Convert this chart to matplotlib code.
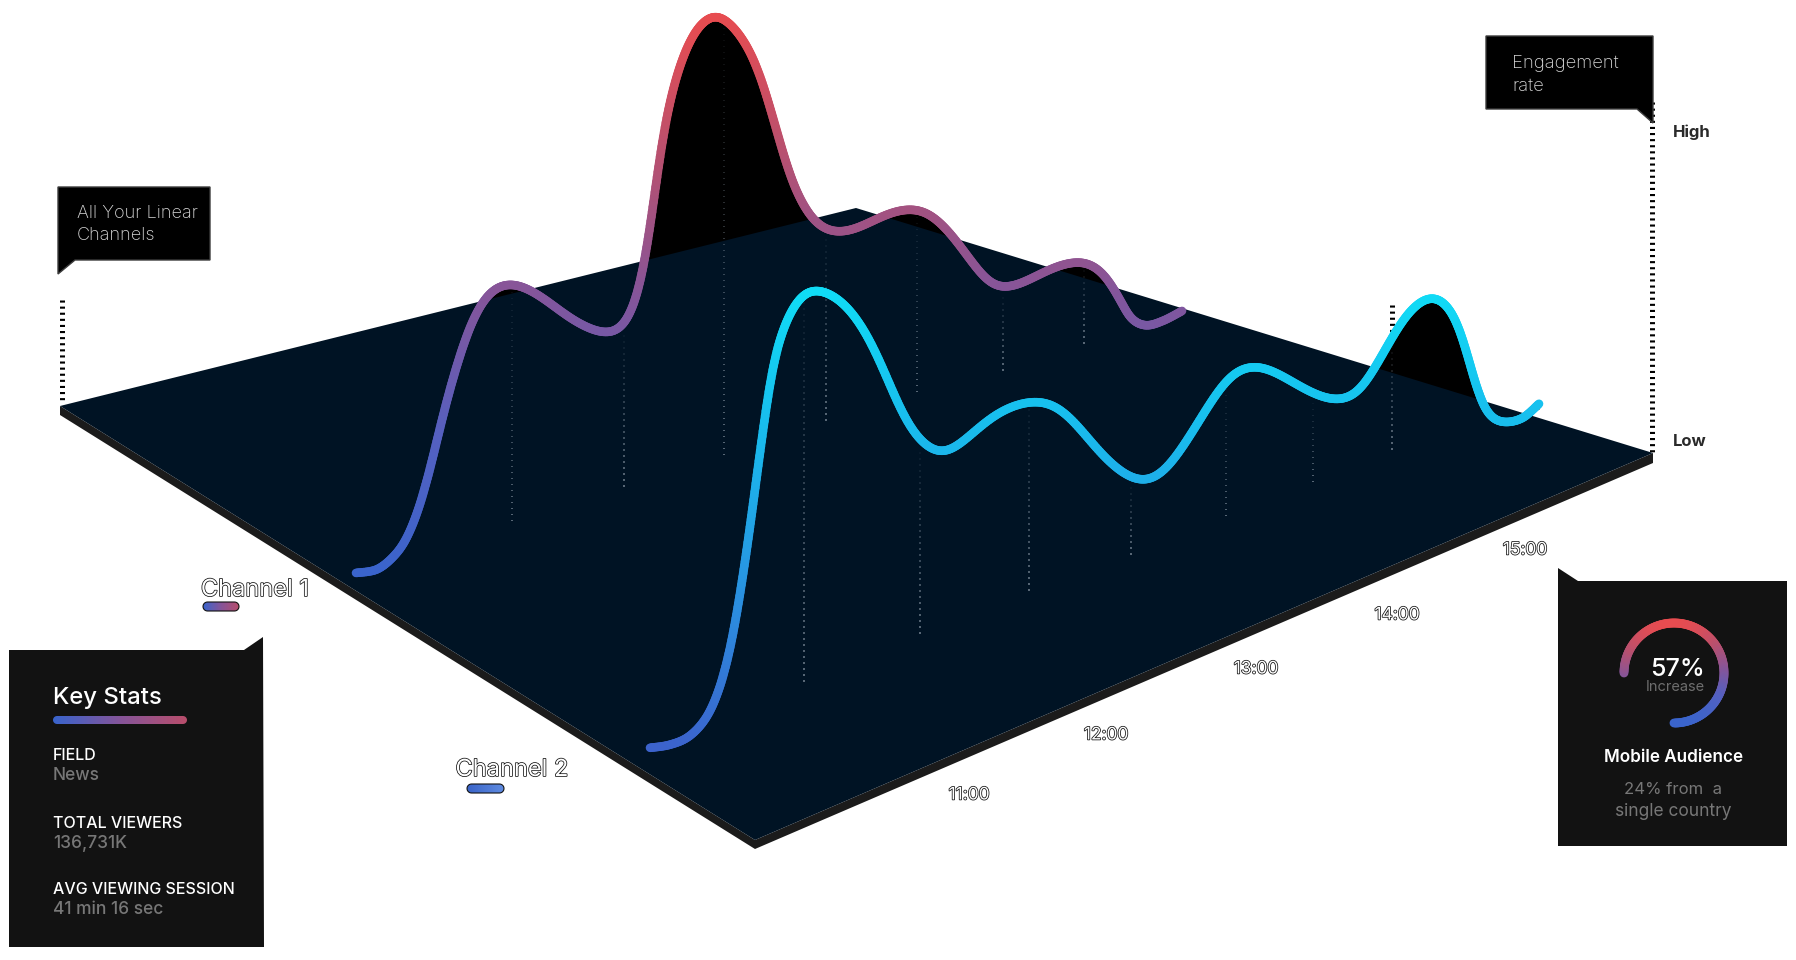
import numpy as np
import matplotlib
matplotlib.use("Agg")
import matplotlib.pyplot as plt
import matplotlib.patheffects as pe
from matplotlib.collections import LineCollection
from matplotlib.colors import LinearSegmentedColormap
from matplotlib.patches import Polygon

# channel 1: hour of day, engagement
ch1_hours = [10.000, 10.153, 10.269, 10.370, 10.465, 10.538, 10.610, 10.683, 10.755, 10.828,
             10.923, 11.024, 11.133, 11.249, 11.387, 11.533, 11.678, 11.823, 11.932, 12.012,
             12.077, 12.136, 12.194, 12.266, 12.354, 12.448, 12.550, 12.630, 12.717, 12.811,
             12.913, 13.007, 13.095, 13.174, 13.276, 13.371, 13.494, 13.639, 13.785, 13.930,
             14.075, 14.191, 14.315, 14.438, 14.555, 14.656, 14.772, 14.918, 15.063, 15.208,
             15.332, 15.455, 15.550, 15.622, 15.731, 15.862, 16.000]
ch1_values = [0.9, 0.1, 1.6, 4.6, 11.0, 18.6, 27.4, 35.4, 42.0, 48.0,
              53.0, 54.8, 54.4, 52.1, 48.1, 42.9, 39.0, 36.0, 36.2, 39.8,
              46.3, 56.4, 69.8, 83.3, 91.4, 97.6, 99.6, 99.5, 96.8, 92.5,
              86.0, 75.3, 64.9, 55.9, 49.1, 44.8, 42.3, 41.9, 43.0, 43.5,
              42.5, 39.8, 34.8, 28.5, 22.2, 19.0, 18.0, 18.7, 19.8, 19.6,
              18.4, 14.2, 7.7, 2.6, 0.0, 0.0, 0.9]

# channel 2
ch2_hours = [10.000, 10.135, 10.270, 10.391, 10.472, 10.540, 10.594, 10.641, 10.688, 10.722,
             10.790, 10.844, 10.925, 11.012, 11.093, 11.168, 11.262, 11.370, 11.485, 11.599,
             11.707, 11.822, 11.957, 12.072, 12.247, 12.409, 12.612, 12.747, 12.882, 13.037,
             13.192, 13.327, 13.462, 13.597, 13.712, 13.847, 13.962, 14.097, 14.232, 14.387,
             14.522, 14.657, 14.771, 14.859, 14.974, 15.082, 15.197, 15.298, 15.386, 15.453,
             15.514, 15.568, 15.622, 15.690, 15.784, 15.892, 16.000]
ch2_values = [1.6, 0.5, 0.5, 3.2, 8.4, 15.8, 25.3, 34.4, 45.0, 53.0,
              68.8, 79.2, 85.5, 89.2, 89.4, 88.2, 85.6, 80.9, 73.6, 63.5,
              53.2, 45.9, 41.4, 41.4, 45.2, 46.7, 45.8, 42.6, 36.9, 27.8,
              21.4, 17.6, 17.6, 22.4, 26.9, 32.7, 35.2, 34.4, 30.9, 25.6,
              21.6, 18.8, 18.9, 21.8, 27.0, 32.2, 34.6, 34.4, 31.0, 26.2,
              18.7, 11.4, 5.3, 1.6, -0.3, -0.6, 1.2]

# hours with a dotted drop line
ch1_drops = [11.133, 11.947, 12.673, 13.414, 14.075, 14.700, 15.288]
ch2_drops = [11.039, 11.822, 12.558, 13.246, 13.887, 14.474, 15.008]

tick_labels = ["11:00", "12:00", "13:00", "14:00", "15:00"]
tick_x = [969, 1106, 1256, 1397, 1525]
tick_y = [795, 735, 669, 615, 550]

stat_names = ["FIELD", "TOTAL VIEWERS", "AVG VIEWING SESSION"]
stat_values = ["News", "136,731K", "41 min 16 sec"]
stat_y = [756, 824, 890]

# how a channel sits on the floor of the picture, in pixels
HEIGHT_PX = 4.5
CH1 = dict(x0=356, px_per_hour=137.67, y0=577, slope=0.3172, floor=0.6)
CH2 = dict(x0=650, px_per_hour=148.17, y0=755, slope=0.389, floor=3.2)

PLATE = "#001324"
EDGE = "#1b1b1b"
PANEL = "#121212"
GREY = "#777777"
FONT = "Inter"

warm = LinearSegmentedColormap.from_list("warm", ["#3a64cc", "#5560c0", "#85559a", "#b8506f", "#e84c50"])
cool = LinearSegmentedColormap.from_list("cool", ["#3c62cc", "#2a90e0", "#1ab8ec", "#10dcf6"])
pink_bar = LinearSegmentedColormap.from_list("pink", ["#3a64cc", "#85559a", "#b84e6c"])
blue_bar = LinearSegmentedColormap.from_list("blue", ["#3a64c8", "#5f8be0"])


def project(hours, values, ch):
    hours = np.asarray(hours, dtype=float)
    values = np.asarray(values, dtype=float)
    x = ch["x0"] + (hours - 10) * ch["px_per_hour"]
    y = ch["y0"] - ch["slope"] * (x - ch["x0"]) - values * HEIGHT_PX
    return x, y


def smooth(x, y, n=12, sigma=9):
    # catmull-rom through the read points, then a soft blur to hide reading jitter
    p = np.column_stack([x, y])
    p = np.vstack([p[0], p, p[-1]])
    out = []
    for i in range(1, len(p) - 2):
        t = np.linspace(0, 1, n, endpoint=False)[:, None]
        out.append(0.5 * (2 * p[i] + (p[i + 1] - p[i - 1]) * t
                          + (2 * p[i - 1] - 5 * p[i] + 4 * p[i + 1] - p[i + 2]) * t ** 2
                          + (3 * p[i] - p[i - 1] - 3 * p[i + 1] + p[i + 2]) * t ** 3))
    out.append(p[-2][None, :])
    pts = np.vstack(out)
    half = 3 * sigma
    kern = np.exp(-0.5 * (np.arange(-half, half + 1) / sigma) ** 2)
    kern /= kern.sum()
    res = pts.copy()
    for c in range(2):
        pad = np.r_[pts[half:0:-1, c], pts[:, c], pts[-2:-half - 2:-1, c]]
        res[:, c] = np.convolve(pad, kern, mode="valid")
    # fade the blur out at the two ends so they stay where they were read
    idx = np.arange(len(pts))
    w = np.clip(np.minimum(idx, len(pts) - 1 - idx) / (2 * half), 0, 1)[:, None]
    return w * res + (1 - w) * pts


def gradient_line(ax, pts, cmap, top, bottom, lw, z):
    segs = np.stack([pts[:-1], pts[1:]], axis=1)
    mid = (pts[:-1, 1] + pts[1:, 1]) / 2
    lc = LineCollection(segs, colors=cmap((bottom - mid) / (bottom - top)), linewidths=lw,
                        capstyle="round", zorder=z)
    ax.add_collection(lc)


def dotted_drop(ax, hour, hours, values, ch, top_gap=2.0):
    x, top = project(hour, np.interp(hour, hours, values), ch)
    _, bottom = project(hour, ch["floor"], ch)
    ys = np.arange(top + top_gap * HEIGHT_PX, bottom, 6.0)
    alpha = np.linspace(0.08, 0.75, len(ys))
    segs = [[(x, v), (x, v + 1.6)] for v in ys]
    cols = [(0.6, 0.65, 0.7, a) for a in alpha]
    ax.add_collection(LineCollection(segs, colors=cols, linewidths=1.1, zorder=3))


def ruler(ax, x, y_top, y_bottom, z=1):
    ax.plot([x, x], [y_top, y_bottom], color="black", lw=3.6, linestyle=(0, (0.42, 0.8)),
            solid_capstyle="butt", dash_capstyle="butt", zorder=z)


def outlined(ax, x, y, s, size, ha="center"):
    t = ax.text(x, y, s, fontsize=size, color="white", ha=ha, va="center", family=FONT, zorder=6)
    t.set_path_effects([pe.Stroke(linewidth=1.1, foreground="#111111"), pe.Normal()])
    return t


def bar(ax, x0, x1, y0, y1, cmap, edge=None):
    im = ax.imshow(np.linspace(0, 1, 64)[None, :], extent=(x0, x1, y1, y0), cmap=cmap,
                   aspect="auto", zorder=7)
    r = (y1 - y0) / 2
    ang = np.linspace(-np.pi / 2, np.pi / 2, 12)
    xs = np.r_[x1 - r + r * np.cos(ang), x0 + r - r * np.cos(ang)]
    ys = np.r_[(y0 + y1) / 2 + r * np.sin(ang), (y0 + y1) / 2 - r * np.sin(ang)]
    clip = Polygon(np.column_stack([xs, ys]), closed=True, transform=ax.transData,
                   fc="none", ec=edge or "none", lw=0.8, zorder=8)
    ax.add_patch(clip)
    im.set_clip_path(clip)


fig = plt.figure(figsize=(17.96, 9.6), dpi=100)
ax = fig.add_axes([0, 0, 1, 1])

# things standing behind the plate
for hours, values, ch in [(ch1_hours, ch1_values, CH1), (ch2_hours, ch2_values, CH2)]:
    x, y = project(hours, values, ch)
    pts = smooth(x, y)
    _, base = project(10 + (pts[:, 0] - ch["x0"]) / ch["px_per_hour"], 0, ch)
    ax.fill_between(pts[:, 0], pts[:, 1], base, color="black", lw=0, zorder=1)

ruler(ax, 1652, 102, 452)
ruler(ax, 62, 300, 403)
ruler(ax, 1392, 305, 372)

# the plate
ax.add_patch(Polygon([(60, 406), (60, 415), (755, 849), (1653, 463), (1653, 453), (755, 840)],
                     closed=True, fc=EDGE, ec="none", zorder=2))
ax.add_patch(Polygon([(60, 406), (856, 208), (1653, 453), (755, 840)],
                     closed=True, fc=PLATE, ec="none", zorder=2))

for h in ch1_drops:
    dotted_drop(ax, h, ch1_hours, ch1_values, CH1)
for h in ch2_drops:
    dotted_drop(ax, h, ch2_hours, ch2_values, CH2)

x, y = project(ch1_hours, ch1_values, CH1)
gradient_line(ax, smooth(x, y), warm, 15, 570, 6.2, 4)
x, y = project(ch2_hours, ch2_values, CH2)
gradient_line(ax, smooth(x, y), cool, 290, 750, 6.2, 5)

for lab, tx, ty in zip(tick_labels, tick_x, tick_y):
    outlined(ax, tx, ty, lab, 12.5)

outlined(ax, 255, 590, "Channel 1", 17)
outlined(ax, 512, 770, "Channel 2", 17)
bar(ax, 203, 239, 602, 611, pink_bar, edge="#111111")
bar(ax, 467, 504, 784, 793, blue_bar, edge="#111111")

# callouts
ax.add_patch(Polygon([(58, 187), (210, 187), (210, 260), (75, 260), (58, 274)], closed=True,
                     fc="black", ec="#3c3c3c", lw=1, zorder=6))
ax.text(77, 214, "All Your Linear", color="#d8d8d8", fontsize=13, weight="light", family=FONT, va="center", zorder=7)
ax.text(77, 236, "Channels", color="#d8d8d8", fontsize=13, weight="light", family=FONT, va="center", zorder=7)

ax.add_patch(Polygon([(1486, 36), (1653, 36), (1653, 123), (1637, 109), (1486, 109)], closed=True,
                     fc="black", ec="#3c3c3c", lw=1, zorder=6))
ax.text(1512, 64, "Engagement", color="#d8d8d8", fontsize=13.3, weight="light", family=FONT, va="center", zorder=7)
ax.text(1512, 86, "rate", color="#d8d8d8", fontsize=13.3, weight="light", family=FONT, va="center", zorder=7)

ax.text(1673, 132, "High", color="#2a2a2a", fontsize=12, weight="bold", family=FONT, va="center")
ax.text(1673, 442, "Low", color="#2a2a2a", fontsize=12, weight="bold", family=FONT, va="center")

# key stats panel
ax.add_patch(Polygon([(9, 650), (244, 650), (263, 637), (264, 947), (9, 947)], closed=True,
                     fc=PANEL, ec="none", zorder=6))
ax.text(53, 698, "Key Stats", color="white", fontsize=17.2, weight="medium", family=FONT, va="center", zorder=7)
bar(ax, 53, 187, 716, 724, pink_bar)
for name, val, sy in zip(stat_names, stat_values, stat_y):
    ax.text(53, sy, name, color="white", fontsize=11.5, weight="medium", family=FONT, va="center", zorder=7)
    ax.text(53, sy + 20, val, color=GREY, fontsize=12.5, weight="medium", family=FONT, va="center", zorder=7)

# mobile panel
ax.add_patch(Polygon([(1558, 568), (1578, 581), (1787, 581), (1787, 846), (1558, 846)], closed=True,
                     fc=PANEL, ec="none", zorder=6))
ang = np.radians(np.linspace(180, -90, 160))
arc = np.column_stack([1674 + 50 * np.cos(ang), 673 - 50 * np.sin(ang)])
gradient_line(ax, arc, warm, 623, 723, 6.4, 7)
ax.text(1677, 669, "57%", color="white", fontsize=18, weight="medium", family=FONT, ha="center", va="center", zorder=8)
ax.text(1675, 687, "Increase", color="#6e6e6e", fontsize=10.5, family=FONT, ha="center", va="center", zorder=8)
ax.text(1674, 758, "Mobile Audience", color="white", fontsize=12.3, weight="semibold", family=FONT, ha="center", va="center", zorder=8)
ax.text(1673, 790, "24% from  a", color=GREY, fontsize=12, family=FONT, ha="center", va="center", zorder=8)
ax.text(1673, 812, "single country", color=GREY, fontsize=12.5, family=FONT, ha="center", va="center", zorder=8)

ax.set_xlim(0, 1796)
ax.set_ylim(960, 0)
ax.axis("off")
fig.savefig("out.png", dpi=100, facecolor="white")
